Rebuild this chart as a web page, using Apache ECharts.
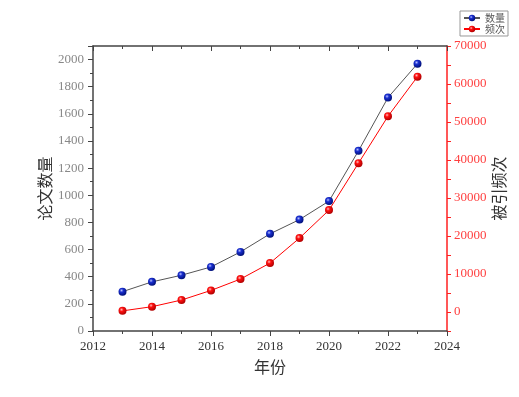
<!DOCTYPE html>
<html>
<head>
<meta charset="utf-8">
<script src="https://cdn.jsdelivr.net/npm/echarts@6/dist/echarts.min.js"></script>
<style>
  html, body { margin: 0; padding: 0; background: #fff; }
  #chart { width: 519px; height: 397px; }
</style>
</head>
<body>
<div id="chart"></div>
<script>
// 年份
var years = [2013, 2014, 2015, 2016, 2017, 2018, 2019, 2020, 2021, 2022, 2023];
// 论文数量 (左轴)
var paperCount = [290, 362, 411, 472, 583, 716, 821, 957, 1328, 1720, 1970];
// 被引频次 (右轴)
var citeCount = [300, 1400, 3150, 5680, 8670, 12880, 19450, 26810, 39170, 51520, 61940];
var seriesNames = ["数量", "频次"];

var numFont = "Liberation Serif";
var cjkFont = "Noto Sans CJK SC";

function ball(light, mid, dark) {
  return {
    type: "radial", x: 0.38, y: 0.35, r: 0.65,
    colorStops: [
      { offset: 0, color: light },
      { offset: 0.35, color: mid },
      { offset: 1, color: dark }
    ]
  };
}

function pairs(ys) {
  var out = [];
  for (var i = 0; i < years.length; i++) out.push([years[i], ys[i]]);
  return out;
}

function plain(v) { return String(v); }

var chart = echarts.init(document.getElementById("chart"));
chart.setOption({
  animation: false,
  grid: { left: 93, right: 72, top: 46, bottom: 66, outerBoundsMode: "none" },
  legend: {
    right: 11, top: 11,
    orient: "vertical",
    borderColor: "#999", borderWidth: 1,
    padding: [2, 3], itemGap: 1,
    itemWidth: 16, itemHeight: 8,
    textStyle: { fontSize: 10, color: "#555", fontFamily: cjkFont },
    data: seriesNames
  },
  xAxis: [{
    type: "value", min: 2012, max: 2024, interval: 2,
    name: "年份", nameLocation: "middle", nameGap: 28, nameMoveOverlap: false,
    nameTextStyle: { fontSize: 16, color: "#333", fontFamily: cjkFont },
    axisLine: { onZero: false, lineStyle: { color: "#444", width: 1.5 } },
    axisTick: { length: 5, lineStyle: { color: "#444" } },
    minorTick: { show: true, splitNumber: 2, length: 3, lineStyle: { color: "#444" } },
    axisLabel: { color: "#333", fontSize: 13, fontFamily: numFont, margin: 9, formatter: plain },
    splitLine: { show: false }
  }, {
    type: "value", min: 2012, max: 2024, interval: 2, position: "top",
    axisLine: { show: true, onZero: false, lineStyle: { color: "#444", width: 1.5 } },
    axisTick: { show: true, inside: true, length: 5, lineStyle: { color: "#444" } },
    minorTick: { show: true, splitNumber: 2, length: 3, lineStyle: { color: "#444" } },
    axisLabel: { show: false },
    splitLine: { show: false }
  }],
  yAxis: [{
    type: "value", min: 0, max: 2100, interval: 200,
    name: "论文数量", nameLocation: "middle", nameGap: 40, nameRotate: 90, nameMoveOverlap: false,
    nameTextStyle: { fontSize: 16, color: "#333", fontFamily: cjkFont },
    axisLine: { show: true, onZero: false, lineStyle: { color: "#444", width: 1.5 } },
    axisTick: { length: 5, lineStyle: { color: "#444" } },
    minorTick: { show: true, splitNumber: 2, length: 3, lineStyle: { color: "#444" } },
    axisLabel: { color: "#888", fontSize: 13, fontFamily: numFont, margin: 9, showMaxLabel: false, formatter: plain },
    splitLine: { show: false }
  }, {
    type: "value", min: -5000, max: 70000, interval: 5000, position: "right",
    name: "被引频次", nameLocation: "middle", nameGap: 44, nameRotate: 90, nameMoveOverlap: false,
    nameTextStyle: { fontSize: 16, color: "#333", fontFamily: cjkFont },
    axisLine: { show: true, onZero: false, lineStyle: { color: "#ff2020", width: 1.5 } },
    axisTick: { length: 4, lineStyle: { color: "#ff2020" } },
    axisLabel: {
      color: "#ff4040", fontSize: 13, fontFamily: numFont, margin: 7,
      formatter: function (v) { return v % 10000 === 0 ? String(v) : ""; }
    },
    splitLine: { show: false }
  }],
  series: [{
    name: seriesNames[0], type: "line", xAxisIndex: 0, yAxisIndex: 0,
    data: pairs(paperCount),
    symbol: "circle", symbolSize: 8,
    lineStyle: { color: "#555", width: 1 },
    itemStyle: { color: ball("#b8c0ff", "#1a2fd0", "#00107a") }
  }, {
    name: seriesNames[1], type: "line", xAxisIndex: 0, yAxisIndex: 1,
    data: pairs(citeCount),
    symbol: "circle", symbolSize: 8,
    lineStyle: { color: "#ff0000", width: 1 },
    itemStyle: { color: ball("#ffc0c0", "#ff1010", "#b00000") }
  }]
});
</script>
</body>
</html>
